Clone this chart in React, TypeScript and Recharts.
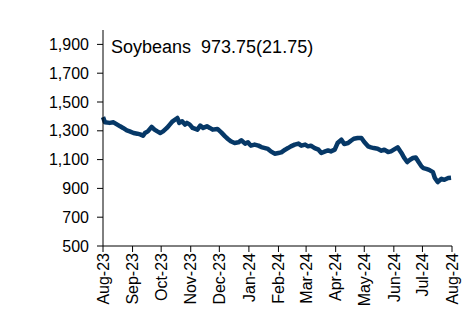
import React from "react";
import { LineChart, Line, XAxis, YAxis } from "recharts";

// Day offsets from 2023-08-01 and soybean prices (cents/bu)
const days = [0, 2, 7, 11, 15, 18, 21, 25, 28, 32, 36, 39, 42, 44, 47, 51, 54, 57, 60, 63, 67, 70, 73, 78, 80, 83, 86, 88, 91, 94, 99, 102, 105, 109, 112, 115, 120, 124, 128, 131, 134, 138, 142, 145, 149, 152, 155, 159, 163, 166, 170, 173, 176, 180, 184, 187, 191, 194, 197, 201, 205, 208, 212, 215, 218, 222, 226, 229, 233, 236, 239, 243, 246, 250, 253, 257, 260, 263, 267, 271, 274, 278, 281, 284, 288, 292, 295, 299, 302, 305, 309, 313, 316, 319, 322, 325, 328, 331, 334, 336, 339, 342, 346, 348, 351, 355, 358, 362, 365];
const prices = [1395, 1359, 1355, 1359, 1343, 1331, 1320, 1303, 1296, 1285, 1280, 1275, 1266, 1285, 1296, 1327, 1308, 1296, 1285, 1296, 1320, 1343, 1366, 1389, 1355, 1366, 1343, 1355, 1343, 1320, 1308, 1336, 1320, 1331, 1320, 1308, 1313, 1289, 1261, 1243, 1227, 1215, 1220, 1234, 1211, 1220, 1197, 1204, 1197, 1187, 1180, 1174, 1157, 1141, 1146, 1150, 1169, 1180, 1192, 1204, 1211, 1197, 1204, 1192, 1197, 1180, 1169, 1146, 1157, 1164, 1157, 1169, 1215, 1238, 1208, 1215, 1231, 1245, 1250, 1250, 1222, 1192, 1185, 1180, 1176, 1162, 1169, 1153, 1157, 1169, 1185, 1146, 1111, 1083, 1099, 1111, 1115, 1083, 1053, 1041, 1036, 1029, 1013, 972, 944, 967, 960, 972, 974];

const monthTicks = [0, 31, 61, 92, 122, 153, 184, 213, 244, 274, 305, 335, 366];
const monthLabels = ["Aug-23", "Sep-23", "Oct-23", "Nov-23", "Dec-23", "Jan-24", "Feb-24", "Mar-24", "Apr-24", "May-24", "Jun-24", "Jul-24", "Aug-24"];
const yTicks = [500, 700, 900, 1100, 1300, 1500, 1700, 1900];
const title = "Soybeans  973.75(21.75)";

const data = days.map((d, i) => ({ day: d, price: prices[i] }));

const FONT = "'Liberation Sans', Arial, sans-serif";

const XTick = (props: any) => {
  const { x, y, payload } = props;
  const idx = monthTicks.indexOf(payload.value);
  return (
    <text
      x={x}
      y={y}
      dy="0.36em"
      transform={`rotate(-90 ${x} ${y})`}
      textAnchor="end"
      fontFamily={FONT}
      fontSize={16}
      fill="#000"
    >
      {idx >= 0 ? monthLabels[idx] : ""}
    </text>
  );
};

export default function App() {
  return (
    <div style={{ position: "absolute", left: 0, top: 0, width: 473, height: 309, background: "#fff" }}>
      <LineChart width={473} height={309} data={data} margin={{ top: 30, right: 21, bottom: 0, left: 0 }}>
        <XAxis
          dataKey="day"
          type="number"
          domain={[0, 366]}
          ticks={monthTicks}
          interval={0}
          height={63}
          tickSize={6}
          tickMargin={1}
          stroke="#000"
          tick={<XTick />}
        />
        <YAxis
          type="number"
          domain={[500, 2000]}
          ticks={yTicks}
          interval={0}
          width={103}
          tickSize={6}
          tickMargin={8}
          stroke="#000"
          tick={{ fill: "#000", fontSize: 16, fontFamily: FONT }}
          tickFormatter={(v: number) => v.toLocaleString("en-US")}
        />
        <Line
          dataKey="price"
          type="linear"
          stroke="#063867"
          strokeWidth={4.5}
          strokeLinejoin="round"
          dot={false}
          isAnimationActive={false}
        />
      </LineChart>
      <div
        style={{
          position: "absolute",
          left: 111,
          top: 38,
          fontFamily: FONT,
          fontSize: 18,
          lineHeight: 1,
          whiteSpace: "pre",
          color: "#000",
        }}
      >
        {title}
      </div>
    </div>
  );
}
